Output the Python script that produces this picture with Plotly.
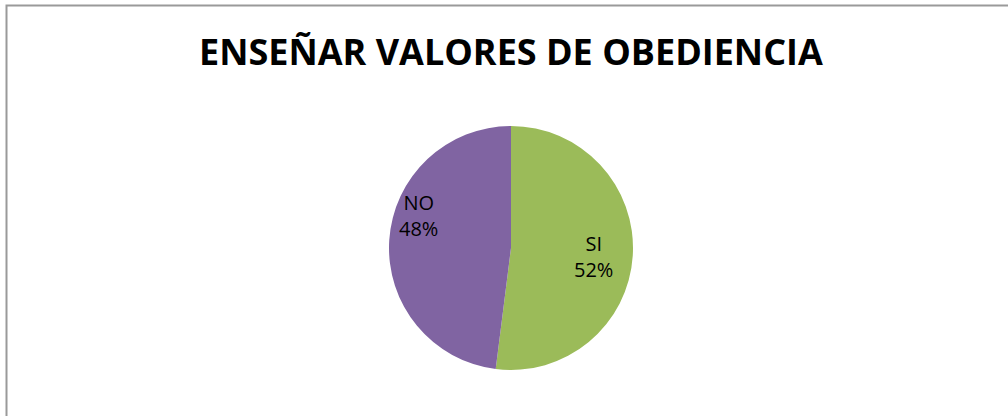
import plotly.graph_objects as go

labels = ["SI", "NO"]
values = [52, 48]
colors = ["#9BBB59", "#8064A2"]
title_text = "ENSEÑAR VALORES DE OBEDIENCIA"

W, H = 1008, 416
cx, cy, r = 511, 248, 122
# label anchor positions (pixels) for each slice
label_pos = [(593, 256), (418, 215)]

total = sum(values)
FONT = "Open Sans, Liberation Sans, sans-serif"

fig = go.Figure(go.Pie(
    labels=labels,
    values=values,
    sort=False,
    direction="clockwise",
    rotation=0,
    marker=dict(colors=colors, line=dict(width=0)),
    textinfo="none",
    showlegend=False,
    hoverinfo="label+percent",
    domain=dict(x=[(cx - r) / W, (cx + r) / W], y=[(H - cy - r) / H, (H - cy + r) / H]),
))

annotations = [dict(text="<b>" + title_text + "</b>", xref="paper", yref="paper",
                    x=511 / W, y=1 - 51 / H, xanchor="center", yanchor="middle",
                    showarrow=False,
                    font=dict(family=FONT, size=36, color="black"))]
for lab, val, (px, py) in zip(labels, values, label_pos):
    annotations.append(dict(
        text=f"{lab}<br>{round(100 * val / total)}%",
        xref="paper", yref="paper", x=px / W, y=1 - py / H,
        xanchor="center", yanchor="middle", showarrow=False,
        font=dict(family=FONT, size=20, color="black")))

fig.update_layout(
    width=W, height=H,
    margin=dict(l=0, r=0, t=0, b=0),
    paper_bgcolor="white",
    plot_bgcolor="white",
    shapes=[dict(type="rect", xref="paper", yref="paper",
                 x0=6.5 / W, x1=1.05, y0=-0.05, y1=1 - 5.5 / H,
                 line=dict(color="#9a9a9a", width=2), fillcolor="rgba(0,0,0,0)")],
    annotations=annotations,
)

fig.write_html("out.html",
               config={"displayModeBar": False},
               post_script="document.body.style.margin='0';document.body.style.overflow='hidden';")
